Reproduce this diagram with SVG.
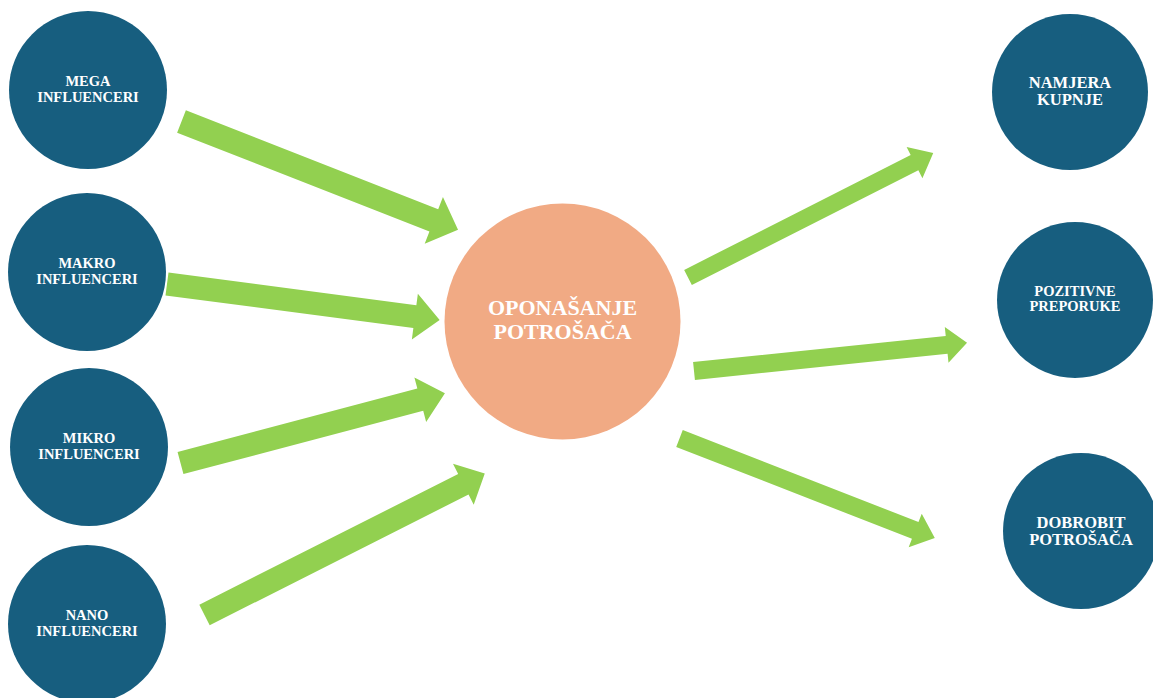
<svg xmlns="http://www.w3.org/2000/svg" width="1153" height="698" viewBox="0 0 1153 698">
<style>
.blue{fill:#175E7F}
.orange{fill:#F1AA84}
.arrow{fill:#92D050}
.t{fill:#fff;font-family:"Liberation Serif","Times New Roman",serif;font-weight:bold;text-anchor:middle}
.s{font-size:14.5px}
.m{font-size:16.5px}
.l{font-size:22px}
</style>
<rect width="1153" height="698" fill="#fff"/>
<g id="connectors">
<path class="arrow" transform="translate(181.5,121.5) rotate(21.4)" d="M0,-12 H271 V-25 L297,0 L271,25 V12 H0 Z"/>
<path class="arrow" transform="translate(167,284) rotate(7.5)" d="M0,-11.5 H250 V-23 L275,0 L250,23 V11.5 H0 Z"/>
<path class="arrow" transform="translate(180.5,463) rotate(-14.8)" d="M0,-11.5 H248 V-23 L273.5,0 L248,23 V11.5 H0 Z"/>
<path class="arrow" transform="translate(204.5,615) rotate(-26.8)" d="M0,-11.5 H290 V-23 L314,0 L290,23 V11.5 H0 Z"/>
<path class="arrow" transform="translate(688,277.5) rotate(-26.9)" d="M0,-8.5 H254 V-17.5 L275,0 L254,17.5 V8.5 H0 Z"/>
<path class="arrow" transform="translate(694,371) rotate(-5.9)" d="M0,-9 H254 V-18 L274.5,0 L254,18 V9 H0 Z"/>
<path class="arrow" transform="translate(679.5,438.5) rotate(21.3)" d="M0,-9 H253 V-18 L274,0 L253,18 V9 H0 Z"/>
</g>
<g id="mega">
<circle class="blue" cx="88" cy="90" r="79"/>
<text class="t s" x="88" y="86">MEGA<tspan x="88" dy="15.5">INFLUENCERI</tspan></text>
</g>
<g id="makro">
<circle class="blue" cx="87" cy="272" r="79"/>
<text class="t s" x="87" y="268">MAKRO<tspan x="87" dy="15.5">INFLUENCERI</tspan></text>
</g>
<g id="mikro">
<circle class="blue" cx="89" cy="447" r="79"/>
<text class="t s" x="89" y="443">MIKRO<tspan x="89" dy="15.5">INFLUENCERI</tspan></text>
</g>
<g id="nano">
<circle class="blue" cx="87" cy="624" r="79"/>
<text class="t s" x="87" y="620">NANO<tspan x="87" dy="16">INFLUENCERI</tspan></text>
</g>
<g id="oponasanje">
<circle class="orange" cx="562.5" cy="321.5" r="118"/>
<text class="t l" x="562.5" y="315">OPONAŠANJE<tspan x="562.5" dy="24">POTROŠAČA</tspan></text>
</g>
<g id="namjera">
<circle class="blue" cx="1070" cy="92" r="78"/>
<text class="t m" x="1070" y="87.5">NAMJERA<tspan x="1070" dy="17.5">KUPNJE</tspan></text>
</g>
<g id="pozitivne">
<circle class="blue" cx="1075" cy="300" r="78"/>
<text class="t s" x="1075" y="295.5">POZITIVNE<tspan x="1075" dy="15.5">PREPORUKE</tspan></text>
</g>
<g id="dobrobit">
<circle class="blue" cx="1081" cy="531" r="78"/>
<text class="t m" x="1081" y="528">DOBROBIT<tspan x="1081" dy="17">POTROŠAČA</tspan></text>
</g>
</svg>
